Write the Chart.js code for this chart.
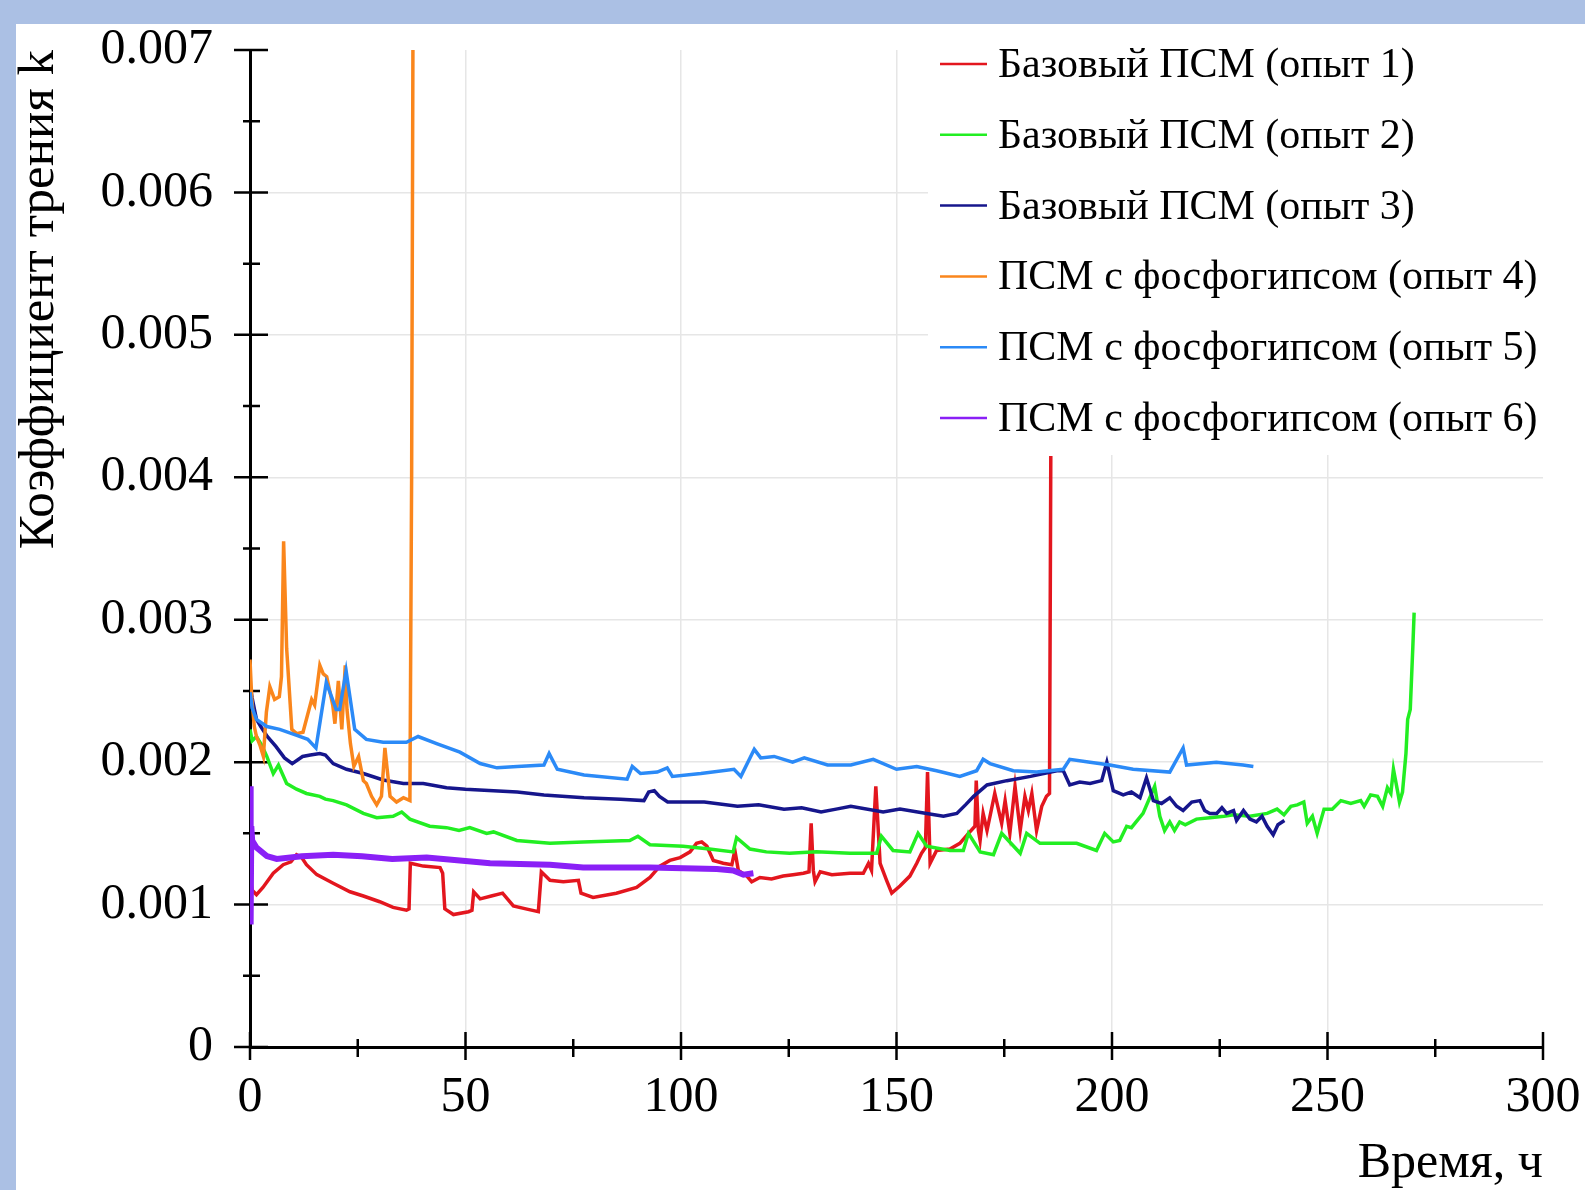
<!DOCTYPE html>
<html lang="ru">
<head>
<meta charset="utf-8">
<title>Коэффициент трения</title>
<script src="https://cdn.jsdelivr.net/npm/chart.js@4.4.1/dist/chart.umd.min.js"></script>
<style>
  html, body { margin: 0; padding: 0; background: #abc0e4; }
  #wrap { position: relative; width: 1585px; height: 1190px; }
</style>
</head>
<body>
<div id="wrap"><canvas id="frictionChart"></canvas></div>
<script>
document.addEventListener("DOMContentLoaded", () => {

// time, h  /  friction coefficient k (values in units of 1e-3)
const run1Time = [0, 0.5, 1.5, 3, 5.4, 7.7, 9.5, 10.8, 12, 13.1, 15.5, 19.3, 23.2, 26.3, 30.1, 33.2, 36.3, 36.9, 37.2, 40.2, 44.1, 44.7, 45.2, 47.2, 50.7, 51.5, 51.9, 53.4, 56, 58.6, 61.1, 64, 66.9, 67.6, 69.6, 72.7, 76.2, 76.8, 79.6, 85, 89.7, 92.8, 95.1, 97.4, 99.8, 102.1, 103.6, 104.8, 106, 107.5, 109.8, 111.8, 112.5, 113.3, 115.3, 116.4, 118.3, 121, 123.7, 126, 128.4, 129.7, 130.2, 130.7, 131.1, 132.3, 135, 139.2, 142.3, 143.5, 144.2, 145.2, 146.2, 147.7, 148.9, 150.8, 153.1, 154.7, 155.8, 156.7, 157.2, 157.8, 159.3, 162.4, 164.7, 166.7, 168.2, 168.5, 169, 169.4, 170.1, 171, 172.8, 174.4, 175.2, 176.3, 177.5, 178.7, 179.8, 180.6, 181.4, 182.5, 183.7, 184.8, 185.5, 185.8];
const run1K = [1.20, 1.10, 1.07, 1.12, 1.22, 1.28, 1.30, 1.35, 1.33, 1.28, 1.21, 1.15, 1.09, 1.06, 1.02, 0.98, 0.96, 0.97, 1.29, 1.27, 1.26, 1.22, 0.97, 0.93, 0.95, 0.96, 1.09, 1.04, 1.06, 1.08, 0.99, 0.97, 0.95, 1.23, 1.17, 1.16, 1.17, 1.08, 1.05, 1.08, 1.12, 1.19, 1.27, 1.31, 1.33, 1.37, 1.43, 1.44, 1.41, 1.31, 1.29, 1.28, 1.38, 1.24, 1.20, 1.16, 1.19, 1.18, 1.20, 1.21, 1.22, 1.23, 1.57, 1.24, 1.16, 1.23, 1.21, 1.22, 1.22, 1.29, 1.24, 1.83, 1.29, 1.17, 1.08, 1.13, 1.20, 1.29, 1.36, 1.40, 1.93, 1.29, 1.38, 1.39, 1.43, 1.50, 1.55, 1.87, 1.52, 1.45, 1.64, 1.52, 1.78, 1.57, 1.73, 1.50, 1.83, 1.52, 1.76, 1.66, 1.78, 1.52, 1.69, 1.76, 1.78, 4.15];

const run2Time = [0, 0.5, 1.5, 2.7, 3.9, 5.4, 6.6, 8.5, 10.8, 13.1, 16.2, 17.5, 19.3, 22.4, 26.3, 29.4, 33.2, 35.2, 37.1, 41.7, 45.6, 48.5, 51, 54.9, 56.5, 61.9, 69.6, 77.3, 88.1, 90, 92.8, 100.5, 106.6, 112.1, 112.9, 116, 119.8, 125.2, 131.4, 139.2, 145.4, 146.5, 149.2, 153.1, 155, 157, 162.4, 165.5, 166.7, 169.4, 172.5, 174.4, 178.7, 180.2, 183.3, 191.8, 196.4, 198.3, 200.3, 201.8, 203.4, 204.5, 207.2, 209.9, 211.1, 212.2, 213.4, 214.5, 215.7, 217, 219.6, 222.7, 226, 228.2, 232, 236, 238.3, 239.9, 241.5, 243, 244.5, 245.3, 246.5, 247.6, 249.2, 251.1, 253.1, 255.4, 257.7, 258.5, 260, 261.6, 262.8, 263.9, 264.7, 265.3, 266.3, 266.7, 267.4, 268.2, 268.6, 269.2, 269.8, 270.1];
const run2K = [2.23, 2.15, 2.18, 2.12, 2.04, 1.92, 1.98, 1.85, 1.81, 1.78, 1.76, 1.74, 1.73, 1.70, 1.64, 1.61, 1.62, 1.65, 1.60, 1.55, 1.54, 1.52, 1.54, 1.50, 1.51, 1.45, 1.43, 1.44, 1.45, 1.48, 1.42, 1.41, 1.39, 1.37, 1.47, 1.39, 1.37, 1.36, 1.37, 1.36, 1.36, 1.48, 1.38, 1.37, 1.50, 1.41, 1.38, 1.38, 1.50, 1.37, 1.35, 1.50, 1.36, 1.50, 1.43, 1.43, 1.38, 1.50, 1.44, 1.45, 1.55, 1.54, 1.64, 1.83, 1.62, 1.52, 1.58, 1.52, 1.58, 1.56, 1.60, 1.61, 1.62, 1.63, 1.62, 1.64, 1.67, 1.63, 1.69, 1.70, 1.72, 1.57, 1.62, 1.50, 1.67, 1.67, 1.73, 1.71, 1.73, 1.69, 1.77, 1.76, 1.69, 1.82, 1.78, 1.95, 1.79, 1.72, 1.79, 2.06, 2.30, 2.37, 2.81, 3.05];

const run3Time = [0, 0.5, 1.5, 2.5, 4, 6, 8, 9.8, 12.2, 14, 16.2, 17.5, 19.3, 22.4, 26.3, 30.9, 35.6, 40.2, 45.6, 50, 56.5, 62, 68.2, 77.5, 86, 91.4, 92.5, 93.8, 95, 96.9, 105.4, 113.1, 118, 123.9, 128, 132.5, 136, 139.4, 146.9, 150.8, 157, 160.9, 164, 166, 167.9, 171, 175.6, 181.1, 187.2, 188.7, 190.2, 192.5, 194.9, 197.6, 198.8, 200.3, 202.6, 204.5, 206.5, 208, 209.6, 211.5, 213.4, 215, 216.5, 218.5, 220.4, 221.5, 222.7, 224.3, 225.5, 226.6, 228.2, 228.9, 230.5, 232, 233.5, 234.8, 236, 237.4, 238.5, 240];
const run3K = [2.55, 2.45, 2.30, 2.25, 2.18, 2.11, 2.03, 1.99, 2.04, 2.05, 2.06, 2.05, 1.99, 1.95, 1.92, 1.875, 1.85, 1.85, 1.82, 1.81, 1.80, 1.79, 1.77, 1.75, 1.74, 1.73, 1.79, 1.80, 1.76, 1.72, 1.72, 1.69, 1.70, 1.67, 1.68, 1.65, 1.67, 1.69, 1.65, 1.67, 1.64, 1.62, 1.64, 1.70, 1.76, 1.84, 1.87, 1.90, 1.94, 1.94, 1.84, 1.86, 1.85, 1.87, 2.00, 1.80, 1.77, 1.79, 1.75, 1.89, 1.73, 1.71, 1.75, 1.69, 1.66, 1.72, 1.73, 1.66, 1.64, 1.64, 1.68, 1.64, 1.66, 1.59, 1.66, 1.60, 1.58, 1.62, 1.55, 1.49, 1.56, 1.59];

const run4Time = [0, 0.4, 1, 1.5, 2.3, 3.1, 3.8, 4.6, 5.7, 6.8, 7.3, 7.8, 8.5, 9.7, 10.8, 12.3, 14.3, 15, 16.2, 17, 17.8, 19.2, 19.7, 20.5, 21.3, 22.1, 22.5, 23.3, 24.1, 25.2, 26.3, 27, 28.2, 29.4, 30.5, 31.3, 32.5, 34, 35.6, 37.1, 37.5, 37.8];
const run4K = [2.72, 2.45, 2.25, 2.18, 2.12, 2.04, 2.35, 2.53, 2.44, 2.46, 2.60, 3.55, 2.80, 2.23, 2.20, 2.21, 2.44, 2.40, 2.68, 2.62, 2.60, 2.40, 2.27, 2.57, 2.23, 2.68, 2.37, 2.13, 1.97, 2.04, 1.87, 1.85, 1.76, 1.70, 1.76, 2.10, 1.76, 1.72, 1.75, 1.73, 4.00, 7.00];

const run5Time = [0, 0.5, 1.5, 3.9, 6.9, 10.7, 13.4, 15.3, 17.7, 20, 20.8, 22.3, 24.3, 27, 30.9, 36.3, 39, 43.3, 48.7, 53.4, 57.3, 62, 68.2, 69.4, 71.3, 77.5, 87.5, 88.7, 90.6, 94.5, 96.8, 98, 104.6, 112.3, 113.9, 117, 118.5, 121.6, 125.9, 128.6, 134, 139.4, 144.6, 150, 154.7, 159.3, 164.7, 168.6, 170.1, 171.7, 177.1, 182.5, 188.7, 190.2, 194.9, 199.5, 204.9, 213.4, 216.5, 217.3, 224.2, 230.4, 232.8];
const run5K = [2.49, 2.38, 2.30, 2.25, 2.23, 2.19, 2.16, 2.10, 2.56, 2.37, 2.37, 2.64, 2.23, 2.16, 2.14, 2.14, 2.18, 2.13, 2.07, 1.99, 1.96, 1.97, 1.98, 2.06, 1.95, 1.91, 1.88, 1.97, 1.92, 1.93, 1.96, 1.90, 1.92, 1.95, 1.90, 2.09, 2.03, 2.04, 2.00, 2.03, 1.98, 1.98, 2.02, 1.95, 1.97, 1.94, 1.90, 1.94, 2.02, 1.99, 1.94, 1.93, 1.95, 2.02, 2.00, 1.98, 1.95, 1.93, 2.10, 1.98, 2.00, 1.98, 1.97];

const run6Time = [0, 0.15, 0.3, 0.5, 1.5, 3.9, 6.2, 12, 19.3, 26, 33, 41, 48.7, 55.7, 69.6, 77.3, 92.8, 108.3, 112.1, 114.5, 116.8];
const run6K = [1.83, 0.86, 1.55, 1.45, 1.40, 1.34, 1.32, 1.34, 1.35, 1.34, 1.32, 1.33, 1.31, 1.29, 1.28, 1.26, 1.26, 1.25, 1.24, 1.21, 1.22];

const runLabels = [
  "Базовый ПСМ (опыт 1)",
  "Базовый ПСМ (опыт 2)",
  "Базовый ПСМ (опыт 3)",
  "ПСМ с фосфогипсом (опыт 4)",
  "ПСМ с фосфогипсом (опыт 5)",
  "ПСМ с фосфогипсом (опыт 6)"
];
const runTimes = [run1Time, run2Time, run3Time, run4Time, run5Time, run6Time];
const runKs = [run1K, run2K, run3K, run4K, run5K, run6K];

const colors = ["#e3161e", "#22ee22", "#16168c", "#fa861c", "#2b8af7", "#8a20f6"];
const widths = [3.5, 3.5, 3.5, 3.5, 3.5, 6];

const FONT = "'Liberation Serif', 'Times New Roman', serif";

const datasets = runLabels.map((label, i) => ({
  label: label,
  data: runTimes[i].map((t, j) => ({ x: t, y: runKs[i][j] / 1000 })),
  borderColor: colors[i],
  borderWidth: widths[i],
  pointRadius: 0,
  tension: 0,
  fill: false,
  order: runLabels.length - i
}));

// blue frame with white panel
const panelBg = {
  id: "panelBg",
  beforeDraw(chart) {
    const c = chart.ctx;
    c.save();
    c.fillStyle = "#abc0e4";
    c.fillRect(0, 0, chart.width, chart.height);
    c.fillStyle = "#ffffff";
    c.fillRect(16, 24, chart.width - 16, chart.height - 24);
    c.restore();
  }
};

// tick marks crossing the axes, major + minor
const crossTicks = {
  id: "crossTicks",
  beforeDatasetsDraw(chart) {
    const c = chart.ctx;
    const xs = chart.scales.x, ys = chart.scales.y;
    const x0 = chart.chartArea.left, y0 = chart.chartArea.bottom;
    c.save();
    c.strokeStyle = "#000";
    c.lineWidth = 2.5;
    c.beginPath();
    for (let i = 0; i <= 14; i++) {
      const py = ys.getPixelForValue(i * 0.0005);
      const major = i % 2 === 0;
      c.moveTo(x0 - (major ? 16 : 7), py);
      c.lineTo(x0 + (major ? 18 : 10), py);
    }
    for (let i = 0; i <= 12; i++) {
      const px = xs.getPixelForValue(i * 25);
      const major = i % 2 === 0;
      c.moveTo(px, y0 - (major ? 15 : 8));
      c.lineTo(px, y0 + (major ? 13 : 10));
    }
    c.stroke();
    c.restore();
  }
};

// legend box inside the plot, top right
const innerLegend = {
  id: "innerLegend",
  afterDraw(chart) {
    const c = chart.ctx;
    c.save();
    c.fillStyle = "#ffffff";
    c.fillRect(928, 26, 620, 429);
    c.font = "42px " + FONT;
    c.textBaseline = "middle";
    c.textAlign = "left";
    runLabels.forEach((label, i) => {
      const y = 64 + i * 70.8;
      c.strokeStyle = colors[i];
      c.lineWidth = 2.5;
      c.beginPath();
      c.moveTo(940, y);
      c.lineTo(987, y);
      c.stroke();
      c.fillStyle = "#000";
      c.fillText(label, 998, y + 2);
    });
    c.restore();
  }
};

// fixed box sizes, no label overhang padding
function fixBox(scale, w, h) {
  if (w !== null) scale.width = w;
  if (h !== null) scale.height = h;
  scale.paddingTop = 0;
  scale.paddingBottom = 0;
  scale.paddingLeft = 0;
  scale.paddingRight = 0;
}

new Chart(document.getElementById("frictionChart"), {
  type: "line",
  data: { datasets },
  plugins: [panelBg, crossTicks, innerLegend],
  options: {
    animation: false,
    responsive: true,
    maintainAspectRatio: false,
    devicePixelRatio: 1,
    layout: { padding: { left: 0, top: 50, right: 42, bottom: 0 } },
    plugins: {
      legend: { display: false },
      tooltip: { enabled: false }
    },
    scales: {
      x: {
        type: "linear",
        min: 0,
        max: 300,
        ticks: {
          stepSize: 50,
          padding: 21,
          color: "#000",
          font: { family: FONT, size: 50 },
          maxRotation: 0
        },
        grid: {
          drawTicks: false,
          lineWidth: 1.5,
          color: (ctx) => (ctx.tick && ctx.tick.value >= 300 ? "rgba(0,0,0,0)" : "#e6e6e6")
        },
        border: { color: "#000", width: 3 },
        title: {
          display: true,
          text: "Время, ч",
          align: "end",
          color: "#000",
          font: { family: FONT, size: 50, lineHeight: 1 },
          padding: { top: 0, bottom: 1 }
        },
        afterFit(scale) { fixBox(scale, null, 143); }
      },
      y: {
        min: 0,
        max: 0.007,
        ticks: {
          stepSize: 0.001,
          padding: 37,
          color: "#000",
          font: { family: FONT, size: 50 },
          callback: (v) => (v === 0 ? "0" : Number(v).toFixed(3))
        },
        grid: {
          drawTicks: false,
          lineWidth: 1.5,
          color: (ctx) => (ctx.tick && ctx.tick.value >= 0.0069 ? "rgba(0,0,0,0)" : "#e6e6e6")
        },
        border: { color: "#000", width: 3 },
        title: {
          display: true,
          text: "Коэффициент трения k",
          align: "end",
          color: "#000",
          font: { family: FONT, size: 51, lineHeight: 1.1 },
          padding: { top: 12, bottom: 0 }
        },
        afterFit(scale) { fixBox(scale, 250, null); }
      }
    }
  }
});

});
</script>
</body>
</html>
